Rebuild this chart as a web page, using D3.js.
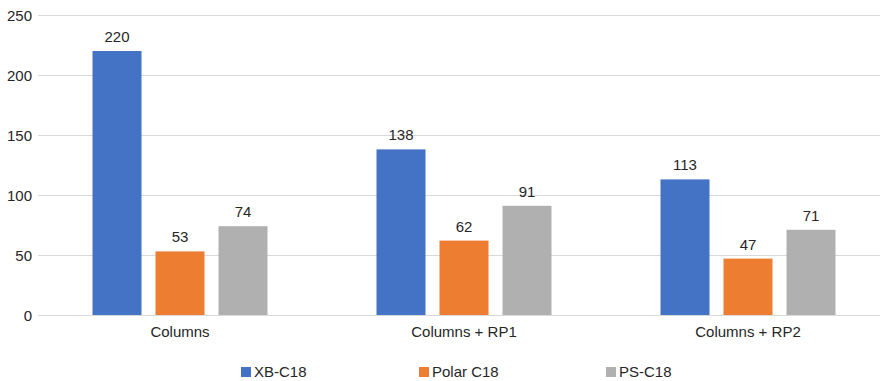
<!DOCTYPE html>
<html>
<head>
<meta charset="utf-8">
<script src="https://cdn.jsdelivr.net/npm/d3@7"></script>
<style>
    body { margin: 0; background: #fff; }
    svg text { font-family: Helvetica, Arial, "Liberation Sans", sans-serif; fill: #262626; }
</style>
</head>
<body>
<div id="chart"></div>
<script>
/*
 * Chart data.
 */
var categories = ['Columns', 'Columns + RP1', 'Columns + RP2'];
var seriesNames = ['XB-C18', 'Polar C18', 'PS-C18'];
var seriesColors = ['#4472C4', '#ED7D31', '#B0B0B0'];
var xbValues = [220, 138, 113];
var polarValues = [53, 62, 47];
var psValues = [74, 91, 71];
var yTicks = [0, 50, 100, 150, 200, 250];

var seriesValues = [xbValues, polarValues, psValues];

var width = 880, height = 381;

var svg = d3.select('#chart').append('svg')
    .attr('width', width)
    .attr('height', height);

/*
 * Scales.
 */
var x = d3.scaleBand()
    .domain(categories)
    .range([38, 890]);

var step = x.bandwidth();
var barWidth = 49, barStep = 63;

var y = d3.scaleLinear()
    .domain([0, 250])
    .range([315, 15]);

/*
 * Gridlines and tick labels.
 */
svg.append('g')
    .selectAll('line')
    .data(yTicks)
    .join('line')
    .attr('x1', 38)
    .attr('x2', width)
    .attr('y1', d => Math.round(y(d)) + 0.5)
    .attr('y2', d => Math.round(y(d)) + 0.5)
    .attr('stroke', '#D9D9D9')
    .attr('stroke-width', 1);

svg.append('g')
    .selectAll('text')
    .data(yTicks)
    .join('text')
    .attr('x', 32)
    .attr('y', d => y(d) + 6)
    .attr('text-anchor', 'end')
    .style('font-size', '15px')
    .text(d => d);

/*
 * Bars and value labels.
 */
var offset = function(i) {
    return (step - (barStep * 2 + barWidth)) / 2 + i * barStep;
};

seriesValues.forEach(function(values, i) {
    var g = svg.append('g');

    g.selectAll('rect')
        .data(values)
        .join('rect')
        .attr('x', (d, j) => x(categories[j]) + offset(i))
        .attr('y', d => y(d))
        .attr('width', barWidth)
        .attr('height', d => y(0) - y(d))
        .attr('fill', seriesColors[i]);

    g.selectAll('text')
        .data(values)
        .join('text')
        .attr('x', (d, j) => x(categories[j]) + offset(i) + barWidth / 2)
        .attr('y', d => y(d) - 9)
        .attr('text-anchor', 'middle')
        .style('font-size', '15px')
        .text(d => d);
});

/*
 * Category labels.
 */
svg.append('g')
    .selectAll('text')
    .data(categories)
    .join('text')
    .attr('x', d => x(d) + step / 2)
    .attr('y', 337)
    .attr('text-anchor', 'middle')
    .style('font-size', '15px')
    .text(d => d);

/*
 * Legend.
 */
var legendX = [241, 419, 606];

var legend = svg.append('g')
    .selectAll('g')
    .data(seriesNames)
    .join('g')
    .attr('transform', (d, i) => 'translate(' + legendX[i] + ',0)');

legend.append('rect')
    .attr('x', 0)
    .attr('y', 367)
    .attr('width', 10)
    .attr('height', 10)
    .attr('fill', (d, i) => seriesColors[i]);

legend.append('text')
    .attr('x', 13)
    .attr('y', 377)
    .style('font-size', '15px')
    .text(d => d);
</script>
</body>
</html>
